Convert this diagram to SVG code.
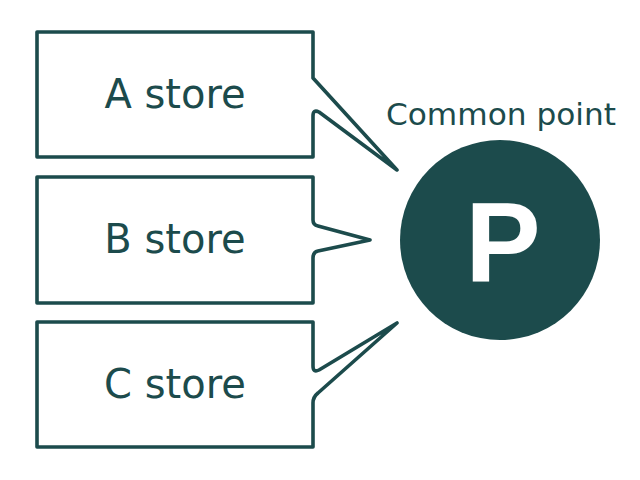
<svg xmlns="http://www.w3.org/2000/svg" width="640" height="480" viewBox="0 0 640 480">
<style>
.box{fill:#ffffff;stroke:#1c4b4c;stroke-width:3.6;stroke-linejoin:round}
.lbl{font-family:"DejaVu Sans",sans-serif;font-size:40px;fill:#1c4b4c;text-anchor:middle}
</style>
<rect width="640" height="480" fill="#ffffff"/>
<g id="connectors"></g>
<g id="storeA">
<path class="box" d="M37,32 H313 V78 L397,170 L319,112 Q313,109 313,116 V157 H37 Z"/>
<text class="lbl" x="175" y="108">A store</text>
</g>
<g id="storeB">
<path class="box" d="M37,177 H313 V220 Q313,225 318,226 L370,240 L318,251 Q313,252 313,258 V303 H37 Z"/>
<text class="lbl" x="175" y="253">B store</text>
</g>
<g id="storeC">
<path class="box" d="M37,322 H313 V366 Q313,373 319,370 L397,323 L318,393 Q313,397 313,403 V447 H37 Z"/>
<text class="lbl" x="175" y="398">C store</text>
</g>
<g id="commonPoint">
<text x="501" y="125" font-family="DejaVu Sans, sans-serif" font-size="30" fill="#1c4b4c" text-anchor="middle" textLength="230" lengthAdjust="spacingAndGlyphs">Common point</text>
<circle cx="500" cy="240" r="100" fill="#1c4b4c"/>
<text x="503" y="281" font-family="Liberation Sans, Arial, sans-serif" font-weight="bold" font-size="113" fill="#ffffff" text-anchor="middle">P</text>
</g>
</svg>
